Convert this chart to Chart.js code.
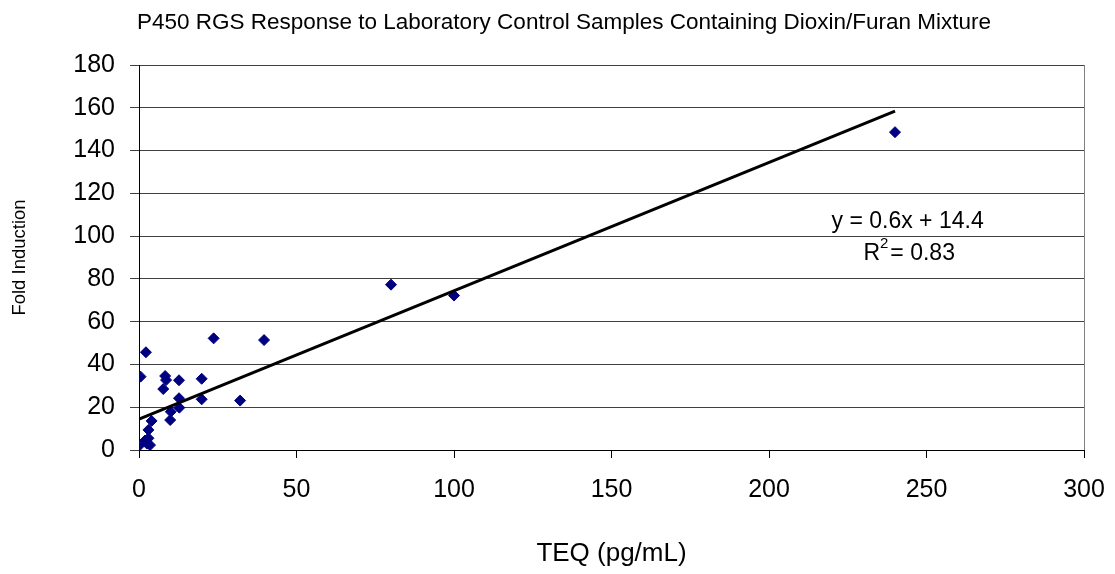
<!DOCTYPE html>
<html>
<head>
<meta charset="utf-8">
<script src="https://cdn.jsdelivr.net/npm/chart.js@4"></script>
<style>
html, body { margin: 0; padding: 0; background: #fff; }
</style>
</head>
<body>
<canvas id="c" width="1115" height="574"></canvas>
<script>
// данные
var teq  = [0, 0.5, 2.2, 1.9, 2.5, 3.0, 3.0, 3.5, 4.0, 7.7, 8.3, 8.6, 9.9, 10.1, 12.7, 12.7, 12.8, 19.9, 19.9, 23.7, 32.1, 39.7, 80, 100, 240];
var fold = [1.9, 34.3, 45.7, 4.4, 3.0, 5.5, 9.4, 2.3, 13.6, 28.5, 34.6, 32.7, 14.0, 17.9, 32.6, 24.2, 19.8, 33.3, 23.7, 52.2, 23.1, 51.4, 77.3, 72.2, 148.6];
var trendX = [0, 240];
var trendY = [14.4, 158.4];
var eqText = 'y = 0.6x + 14.4';
var r2Text = '0.83';
var titleText = 'P450 RGS Response to Laboratory Control Samples Containing Dioxin/Furan Mixture';

var FONT = "'Liberation Sans', Arial, sans-serif";

var points = teq.map(function (x, i) { return { x: x, y: fold[i] }; });
var trend = trendX.map(function (x, i) { return { x: x, y: trendY[i] }; });

var extras = {
    id: 'extras',
    beforeDatasetsDraw: function (chart) {
        var a = chart.chartArea, ctx = chart.ctx;
        ctx.save();
        ctx.strokeStyle = '#808080';
        ctx.lineWidth = 1;
        ctx.beginPath();
        ctx.moveTo(Math.round(a.right) + 0.5, a.top);
        ctx.lineTo(Math.round(a.right) + 0.5, a.bottom);
        ctx.stroke();
        ctx.restore();
    },
    afterDraw: function (chart) {
        var ctx = chart.ctx, xs = chart.scales.x, ys = chart.scales.y;
        ctx.save();
        ctx.fillStyle = '#000';
        // заголовок
        ctx.font = '22.5px ' + FONT;
        ctx.textAlign = 'center';
        ctx.textBaseline = 'middle';
        ctx.fillText(titleText, 564, 23);
        // уравнение тренда
        ctx.font = '23px ' + FONT;
        var ex = xs.getPixelForValue(244);
        ctx.fillText(eqText, ex, ys.getPixelForValue(106.6));
        var y2 = ys.getPixelForValue(92);
        var wR = ctx.measureText('R').width;
        var rest = '= ' + r2Text;
        var wRest = ctx.measureText(rest).width;
        ctx.font = '15px ' + FONT;
        var wSup = ctx.measureText('2').width;
        var total = wR + wSup + 2 + wRest;
        var sx = xs.getPixelForValue(244.5) - total / 2;
        ctx.textAlign = 'left';
        ctx.font = '23px ' + FONT;
        ctx.fillText('R', sx, y2);
        ctx.font = '15px ' + FONT;
        ctx.fillText('2', sx + wR, y2 - 9);
        ctx.font = '23px ' + FONT;
        ctx.fillText(rest, sx + wR + wSup + 2, y2);
        ctx.restore();
    }
};

var ctx = document.getElementById('c').getContext('2d');
new Chart(ctx, {
    type: 'scatter',
    data: {
        datasets: [
            {
                label: 'RGS', data: points, pointStyle: 'rectRot', pointRadius: 5.5,
                backgroundColor: '#000080', borderColor: '#000080', borderWidth: 1, order: 2
            },
            {
                label: 'Trend', type: 'line', data: trend, borderColor: '#000', borderWidth: 3,
                pointRadius: 0, fill: false, tension: 0, order: 1
            }
        ]
    },
    plugins: [extras],
    options: {
        animation: false,
        responsive: false,
        maintainAspectRatio: false,
        layout: { padding: { left: 0, right: 31, top: 65, bottom: 0 } },
        plugins: {
            legend: { display: false },
            title: { display: false },
            tooltip: { enabled: false }
        },
        scales: {
            x: {
                type: 'linear', min: 0, max: 300,
                ticks: { stepSize: 50, color: '#000', font: { family: FONT, size: 25 }, padding: 17, maxRotation: 0 },
                grid: { drawOnChartArea: false, drawTicks: true, tickLength: 8, color: '#000' },
                border: { color: '#000', width: 1 },
                title: { display: true, text: 'TEQ (pg/mL)', color: '#000', font: { family: FONT, size: 26 }, padding: { top: 0, bottom: 5 } },
                afterFit: function (s) { s.height = 124; s.paddingLeft = 0; s.paddingRight = 0; }
            },
            y: {
                min: 0, max: 180,
                ticks: { stepSize: 20, color: '#000', font: { family: FONT, size: 25 }, padding: 15 },
                grid: { color: '#404040', drawTicks: true, tickLength: 9 },
                border: { color: '#000', width: 1 },
                title: { display: true, text: 'Fold Induction', color: '#000', font: { family: FONT, size: 18.5 }, padding: { top: 9, bottom: 0 } },
                afterFit: function (s) { s.width = 139; s.paddingTop = 0; s.paddingBottom = 0; }
            }
        }
    }
});
</script>
</body>
</html>
